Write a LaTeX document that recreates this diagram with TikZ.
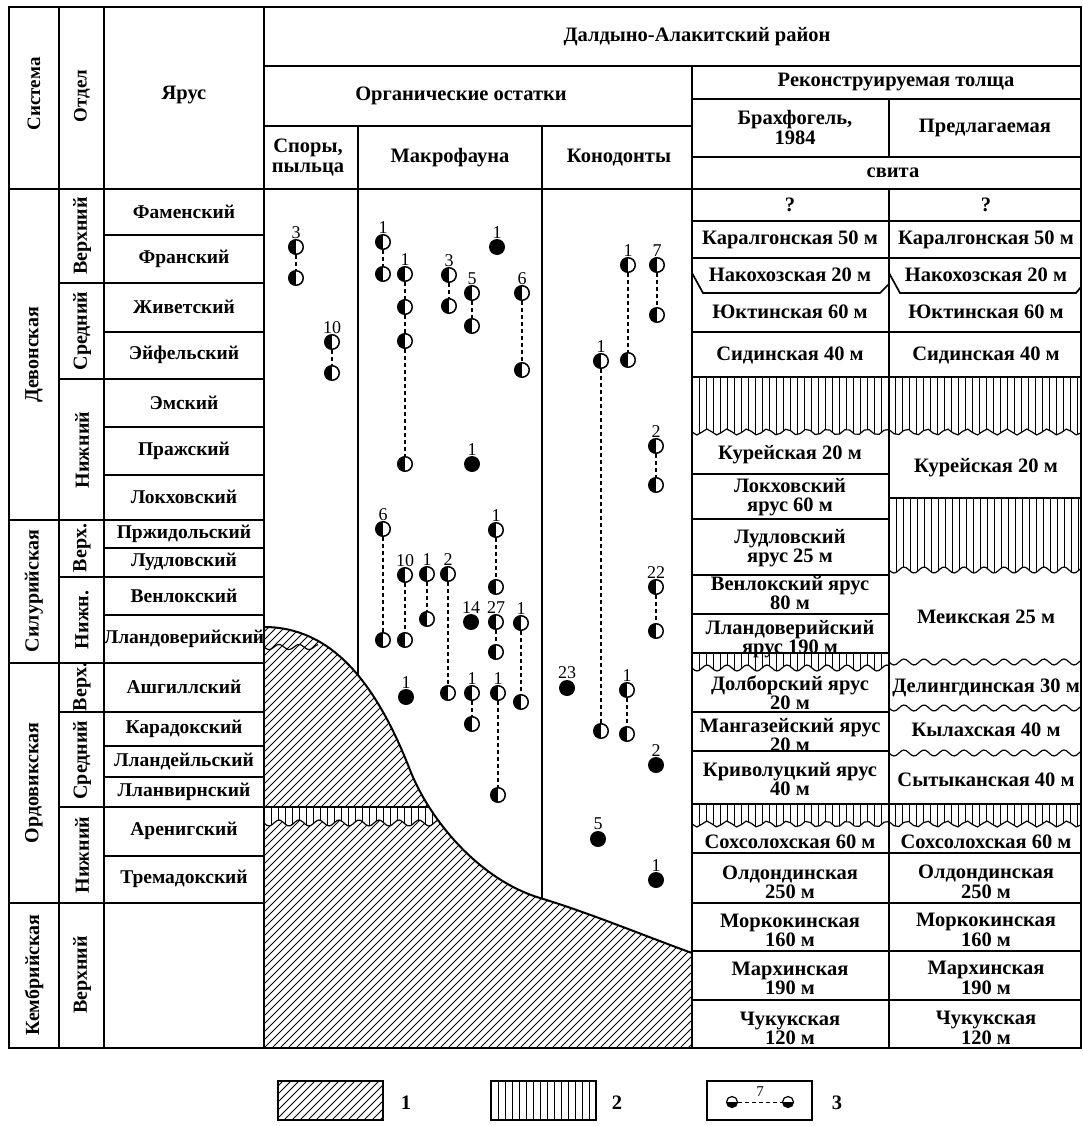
\documentclass[tikz,border=0pt]{standalone}
\usepackage{fontspec}
\setmainfont{Liberation Serif}
\usetikzlibrary{calc,positioning}

\tikzset{
  txt/.style={font=\fontsize{20.5}{20}\selectfont\bfseries, align=center, inner sep=0pt},
  stxt/.style={txt, font=\fontsize{19.5}{20}\selectfont\bfseries},
  vtxt/.style={txt, font=\fontsize{20}{20}\selectfont\bfseries, rotate=90},
  num/.style={font=\fontsize{18}{18}\selectfont, inner sep=0.5pt},
  halfc/.style={circle, draw, line width=1.5pt, minimum size=14.5pt, inner sep=0pt, label distance=3pt,
    path picture={\fill (path picture bounding box.north west) rectangle (path picture bounding box.south);}},
  fullc/.style={circle, fill, minimum size=16pt, inner sep=0pt, label distance=3pt},
  legc/.style={circle, draw, line width=1.2pt, minimum size=11pt, inner sep=0pt,
    path picture={\fill (path picture bounding box.west) rectangle (path picture bounding box.south east);}},
  link/.style={line width=1.3pt, dash pattern=on 4pt off 3pt},
  grid/.style={line width=1.7pt},
  hatch/.style={line width=0.8pt},
  wave/.style={line width=1.2pt},
}

% vertical hatch band with a wavy foot: x1, x2, top, foot
\newcommand{\vband}[4]{%
  \begin{scope}
    \clip (#1,#3) -- (#2,#3) -- plot[domain=#2:#1, samples=80] (\x, {#4+3*sin(18*(\x-#1))}) -- cycle;
    \fill[white] (#1,#3) rectangle (#2,#4+4);
    \foreach \xx in {0,7,...,400} \draw[hatch, line width=1pt] (#1+\xx,#3) -- (#1+\xx,#4+4);
  \end{scope}
  \draw[grid] (#1,#3) -- (#2,#3);
  \draw[wave] plot[domain=#1:#2, samples=80] (\x, {#4+3*sin(18*(\x-#1))});
}

\begin{document}
\begin{tikzpicture}[x=1pt, y=-1pt]
\useasboundingbox (0,0) rectangle (1083,1126);

% grid of the table
\draw[grid] (9,189) -- (1081,189);
\draw[grid] (59,7) -- (59,1048);
\draw[grid] (104,7) -- (104,1048);
\draw[grid] (264,66) -- (1081,66);
\draw[grid] (264,126) -- (692,126);
\draw[grid] (692,99) -- (1081,99);
\draw[grid] (692,157) -- (1081,157);
\draw[grid] (358,126) -- (358,1048);
\draw[grid] (542,126) -- (542,1048);
\draw[grid] (889,99) -- (889,157);
\foreach \y in {235,332,427,475,548,615,746,777,856} \draw[grid] (104,\y) -- (264,\y);
\foreach \y in {283,379,577,712,807} \draw[grid] (59,\y) -- (264,\y);
\foreach \y in {520,663,903} \draw[grid] (9,\y) -- (264,\y);
\foreach \y in {221,258,332,377,853,903,951,1000} \draw[grid] (692,\y) -- (1081,\y);
\foreach \y in {474,519,575,614,712,751} \draw[grid] (692,\y) -- (889,\y);
\draw[grid] (889,498) -- (1081,498);
\draw[grid] (692,273) -- (703,293) -- (880,293) -- (889,284);
\draw[grid] (889,273) -- (900,293) -- (1076,293) -- (1081,287);

% gaps in the section
\vband{692}{1081}{377}{432}
\vband{692}{889}{653}{668}
\vband{889}{1081}{498}{570}
\vband{692}{1081}{804}{824}
\foreach \y in {662,708,753}
  \draw[wave] plot[domain=889:1081, samples=80] (\x, {\y+3*sin(18*(\x-889))});

% basement
\begin{scope}
  \clip (264,627) .. controls (330,627) and (375,680) .. (410,770)
    .. controls (430,821) and (480,880) .. (540,898)
    .. controls (590,913) and (650,938) .. (692,953) -- (692,1048) -- (264,1048) -- cycle;
  \fill[white] (264,600) rectangle (692,1048);
  \foreach \a in {-160,-152,...,692} \draw[hatch] (\a,1048) -- ++(421,-421);
  \vband{264}{470}{807}{823}
\end{scope}
\draw[line width=2pt] (264,627) .. controls (330,627) and (375,680) .. (410,770)
    .. controls (430,821) and (480,880) .. (540,898)
    .. controls (590,913) and (650,938) .. (692,953);
\draw[wave] plot[domain=264:318, samples=30] (\x, {647+2.5*sin(18*(\x-264))});

\draw[grid] (264,7) -- (264,1048);
\draw[grid] (692,66) -- (692,1048);
\draw[grid] (889,189) -- (889,1048);
\draw[line width=2.6pt] (9,7) rectangle (1081,1048);

% head
\node[vtxt, font=\fontsize{19}{19}\selectfont\bfseries] (hsys) at (34,94) {Система};
\node[vtxt, font=\fontsize{19}{19}\selectfont\bfseries] (hdiv) at (82,96) {Отдел};
\node[txt] (hst) at (184,95) {Ярус};
\node[txt] (hreg) at (697,37) {Далдыно-Алакитский район};
\node[txt] (horg) at (461,96) {Органические остатки};
\node[txt] (hrec) at (896,82) {Реконструируемая толща};
\node[txt] (hbr) at (795,127) {Брахфогель,\\1984};
\node[txt] (hpr) at (985,128) {Предлагаемая};
\node[txt] (hsv) at (893,173) {свита};
\node[txt] (hsp) at (308,157) {Споры,\\пыльца};
\node[txt] (hma) at (450,158) {Макрофауна};
\node[txt] (hco) at (619,158) {Конодонты};

% scale
\foreach \y/\t [count=\i] in {355/Девонская, 591/Силурийская, 783/Ордовикская, 975/Кембрийская}
  \node[vtxt] (sys\i) at (34,\y) {\t};
\foreach \y/\t [count=\i] in {236/Верхний, 331/Средний, 450/Нижний, 548/Верх., 620/Нижн.,
    687/Верх., 760/Средний, 855/Нижний, 975/Верхний}
  \node[vtxt] (div\i) at (82,\y) {\t};
\foreach \y/\t [count=\i] in {212/Фаменский, 259/Франский, 307/Живетский, 355/Эйфельский,
    403/Эмский, 451/Пражский, 497/Локховский, 534/Пржидольский, 562/Лудловский,
    596/Венлокский, 639/Лландоверийский, 687/Ашгиллский, 729/Карадокский,
    761/Лландейльский, 792/Лланвирнский, 831/Аренигский, 879/Тремадокский}
  \node[stxt] (st\i) at (184,\y) {\t};

% formations
\foreach \y/\t [count=\i] in {205/?, 240/{Каралгонская 50 м}, 275/{Накохозская 20 м},
    312/{Юктинская 60 м}, 355/{Сидинская 40 м}, 455/{Курейская 20 м},
    497/{Локховский\\ярус 60 м}, 548/{Лудловский\\ярус 25 м}, 593/{Венлокский ярус\\80 м},
    639/{Лландоверийский\\ярус 190 м}, 693/{Долборский ярус\\20 м},
    735/{Мангазейский ярус\\20 м}, 779/{Криволуцкий ярус\\40 м},
    842/{Сохсолохская 60 м}, 882/{Олдондинская\\250 м}, 930/{Моркокинская\\160 м},
    978/{Мархинская\\190 м}, 1028/{Чукукская\\120 м}}
  \node[txt, font=\fontsize{20.5}{19}\selectfont\bfseries] (br\i) at (790,\y) {\t};
\foreach \y/\t [count=\i] in {205/?, 240/{Каралгонская 50 м}, 275/{Накохозская 20 м},
    312/{Юктинская 60 м}, 355/{Сидинская 40 м}, 468/{Курейская 20 м},
    617/{Меикская 25 м}, 688/{Делингдинская 30 м}, 730/{Кылахская 40 м},
    780/{Сытыканская 40 м}, 842/{Сохсолохская 60 м}, 882/{Олдондинская\\250 м},
    930/{Моркокинская\\160 м}, 978/{Мархинская\\190 м}, 1028/{Чукукская\\120 м}}
  \node[txt] (pr\i) at (986,\y) {\t};

% spores
\node[halfc, label={[num]above:3}] (s1a) at (296,247) {};
\node[halfc] (s1b) at (296,278) {};
\node[halfc, label={[num]above:10}] (s2a) at (332,342) {};
\node[halfc] (s2b) at (332,373) {};
\draw[link] (s1a) -- (s1b);
\draw[link] (s2a) -- (s2b);

% macrofauna
\node[halfc, label={[num]above:1}] (m1a) at (383,242) {};
\node[halfc] (m1b) at (383,274) {};
\node[halfc, label={[num]above:1}] (m2a) at (405,274) {};
\node[halfc] (m2b) at (405,307) {};
\node[halfc] (m2c) at (405,341) {};
\node[halfc] (m2d) at (405,464) {};
\node[halfc, label={[num]above:3}] (m3a) at (449,275) {};
\node[halfc] (m3b) at (449,306) {};
\node[halfc, label={[num]above:5}] (m4a) at (472,293) {};
\node[halfc] (m4b) at (472,326) {};
\node[fullc, label={[num]above:1}] (m5) at (497,247) {};
\node[halfc, label={[num]above:6}] (m6a) at (522,293) {};
\node[halfc] (m6b) at (522,370) {};
\node[fullc, label={[num]above:1}] (m7) at (472,464) {};
\node[halfc, label={[num]above:6}] (m8a) at (383,529) {};
\node[halfc] (m8b) at (383,640) {};
\node[halfc, label={[num]above:10}] (m9a) at (405,575) {};
\node[halfc] (m9b) at (405,640) {};
\node[halfc, label={[num]above:1}] (m10a) at (427,574) {};
\node[halfc] (m10b) at (427,619) {};
\node[halfc, label={[num]above:2}] (m11a) at (448,574) {};
\node[halfc] (m11b) at (448,693) {};
\node[halfc, label={[num]above:1}] (m12a) at (496,530) {};
\node[halfc] (m12b) at (496,587) {};
\node[fullc, label={[num]above:14}] (m13) at (471,622) {};
\node[halfc, label={[num]above:27}] (m14a) at (496,622) {};
\node[halfc] (m14b) at (496,652) {};
\node[halfc, label={[num]above:1}] (m15a) at (521,623) {};
\node[halfc] (m15b) at (521,702) {};
\node[fullc, label={[num]above:1}] (m16) at (406,697) {};
\node[halfc, label={[num]above:1}] (m17a) at (472,693) {};
\node[halfc] (m17b) at (472,724) {};
\node[halfc, label={[num]above:1}] (m18a) at (498,693) {};
\node[halfc] (m18b) at (498,795) {};
\draw[link] (m1a) -- (m1b);
\draw[link] (m2a) -- (m2b) -- (m2c) -- (m2d);
\draw[link] (m3a) -- (m3b);
\draw[link] (m4a) -- (m4b);
\draw[link] (m6a) -- (m6b);
\draw[link] (m8a) -- (m8b);
\draw[link] (m9a) -- (m9b);
\draw[link] (m10a) -- (m10b);
\draw[link] (m11a) -- (m11b);
\draw[link] (m12a) -- (m12b);
\draw[link] (m14a) -- (m14b);
\draw[link] (m15a) -- (m15b);
\draw[link] (m17a) -- (m17b);
\draw[link] (m18a) -- (m18b);

% conodonts
\node[halfc, label={[num]above:1}] (c1a) at (601,361) {};
\node[halfc] (c1b) at (601,731) {};
\node[halfc, label={[num]above:1}] (c2a) at (628,265) {};
\node[halfc] (c2b) at (628,360) {};
\node[halfc, label={[num]above:7}] (c3a) at (657,265) {};
\node[halfc] (c3b) at (657,315) {};
\node[halfc, label={[num]above:2}] (c4a) at (656,446) {};
\node[halfc] (c4b) at (656,485) {};
\node[halfc, label={[num]above:22}] (c5a) at (656,587) {};
\node[halfc] (c5b) at (656,631) {};
\node[fullc, label={[num]above:23}] (c6) at (567,688) {};
\node[halfc, label={[num]above:1}] (c7a) at (627,690) {};
\node[halfc] (c7b) at (627,734) {};
\node[fullc, label={[num]above:2}] (c8) at (656,765) {};
\node[fullc, label={[num]above:5}] (c9) at (598,839) {};
\node[fullc, label={[num]above:1}] (c10) at (656,880) {};
\draw[link] (c1a) -- (c1b);
\draw[link] (c2a) -- (c2b);
\draw[link] (c3a) -- (c3b);
\draw[link] (c4a) -- (c4b);
\draw[link] (c5a) -- (c5b);
\draw[link] (c7a) -- (c7b);

% legend
\begin{scope}
  \clip (278,1081) rectangle (383,1120);
  \foreach \a in {236,244,...,383} \draw[hatch] (\a,1120) -- ++(45,-45);
\end{scope}
\draw[line width=1.4pt] (278,1081) rectangle (383,1120);
\foreach \xx in {498,505,...,592} \draw[hatch, line width=1pt] (\xx,1081) -- (\xx,1120);
\draw[line width=1.4pt] (491,1081) rectangle (596,1120);
\draw[line width=1.4pt] (707,1081) rectangle (812,1120);
\node[legc] (lg1) at (732,1102) {};
\node[legc] (lg2) at (788,1102) {};
\draw[link, line width=1pt] (lg1) -- (lg2);
\node[num, font=\fontsize{15}{15}\selectfont] (lg7) at (760,1092) {7};
\node[txt] (leg1) at (406,1103) {1};
\node[txt] (leg2) at (617,1103) {2};
\node[txt] (leg3) at (837,1103) {3};
\end{tikzpicture}
\end{document}
